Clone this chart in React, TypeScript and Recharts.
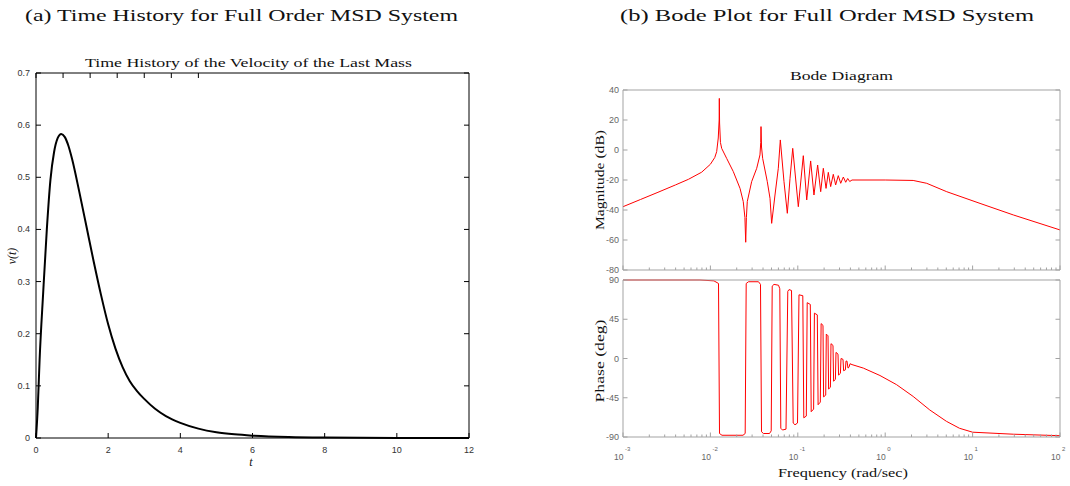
import React from "react";
import { LineChart, Line, XAxis, YAxis } from "recharts";

// ---------------- data: (a) time history ----------------
const timeT = [0, 0.05, 0.1, 0.2, 0.3, 0.4, 0.5, 0.6, 0.7, 0.8, 0.9, 1.0, 1.2, 1.4, 1.6, 1.8, 2.0, 2.2, 2.4, 2.6, 2.8, 3.0, 3.3, 3.6, 4.0, 4.5, 5.0, 5.5, 6.0, 7.0, 8.0, 10.0, 12.0];
const velocity = [0, 0.06, 0.15, 0.28, 0.4, 0.495, 0.548, 0.575, 0.583, 0.577, 0.56, 0.535, 0.472, 0.405, 0.338, 0.275, 0.218, 0.172, 0.136, 0.109, 0.09, 0.075, 0.056, 0.042, 0.029, 0.018, 0.011, 0.007, 0.0045, 0.0018, 0.0008, 0.0002, 0];
const timeTicks = [0, 2, 4, 6, 8, 10, 12];
const velocityTicks = [0, 0.1, 0.2, 0.3, 0.4, 0.5, 0.6, 0.7];

// ---------------- data: (b) Bode magnitude ----------------
const magFreq = [0.001, 0.001585, 0.002512, 0.003981, 0.005623, 0.007943, 0.01, 0.01122, 0.0118, 0.0123, 0.01259, 0.01265, 0.01274, 0.01303, 0.01346, 0.01535, 0.01828, 0.02183, 0.02377, 0.02483, 0.02535, 0.02582, 0.02642, 0.02965, 0.03388, 0.0369, 0.03767, 0.03793, 0.03846, 0.03963, 0.04477, 0.04808, 0.05023, 0.05483, 0.05984, 0.0631, 0.0695, 0.07586, 0.08147, 0.0875, 0.1014, 0.1156, 0.1265, 0.1403, 0.1531, 0.1687, 0.1828, 0.1959, 0.2104, 0.2234, 0.2377, 0.2547, 0.271, 0.2904, 0.3097, 0.3319, 0.3532, 0.3724, 0.3926, 0.4169, 1, 2.089, 2.985, 5.058, 12.16, 29.24, 100];
const magDb = [-37.8, -33, -28.2, -23.3, -19.5, -14.8, -9.5, -5, -1.1, 8, 20, 34.4, 18, 5, 1.1, -5.6, -14.4, -25.6, -34.4, -45, -61.5, -45, -34.4, -21.1, -12.2, -3.3, 5, 15.6, 2, -5.6, -21.1, -32.2, -48.9, -30, -12.2, 6.7, -21.1, -42.2, -18.9, 1.1, -37.8, -3.8, -33.3, -7.3, -30, -10, -27.8, -12.2, -25.6, -14.9, -24.4, -16.2, -23.3, -17.1, -22.2, -18, -21.5, -19, -21, -20, -20, -20.3, -22.2, -27.8, -35.6, -43.3, -53.3];

// ---------------- data: (b) Bode phase ----------------
const phaseFreq = [0.001, 0.0076, 0.01099, 0.01238, 0.01271, 0.01357, 0.0236, 0.025, 0.02568, 0.02729, 0.0355, 0.03743, 0.03844, 0.04051, 0.04746, 0.04964, 0.05096, 0.05343, 0.06016, 0.06223, 0.0639, 0.06683, 0.07328, 0.07683, 0.0793, 0.08472, 0.08857, 0.0929, 0.09922, 0.1032, 0.1141, 0.1171, 0.1251, 0.1281, 0.139, 0.1423, 0.1517, 0.1549, 0.1672, 0.1707, 0.1809, 0.1848, 0.1942, 0.1973, 0.2086, 0.2119, 0.2216, 0.2251, 0.236, 0.2398, 0.2527, 0.2568, 0.2693, 0.2736, 0.2884, 0.2929, 0.3072, 0.3122, 0.329, 0.3342, 0.3504, 0.356, 0.3655, 0.3753, 0.3853, 0.3956, 0.417, 0.5623, 0.871, 1.349, 2.089, 3.236, 5.012, 7.079, 10, 29.24, 100];
const phaseDeg = [90, 90, 89, 86, -86, -88, -88, -86, 86, 88, 88, 85, -84, -86, -86, -83, 83, 85, 84, 80, -80, -82, -81, 77, 79, 78, -74, -76, -74, 73, 72, -68, -66, 64, 62, -61, -58, 52, 50, -53, -50, 40, 38, -44, -42, 28, 26, -35, -33, 17, 15, -26, -24, 7, 5, -19, -17, 0, -1, -14, -13, -3, -3, -11, -10, -6, -7, -11, -19.5, -30, -43.5, -59, -72, -80, -84.5, -86.8, -88.5];

const magTicks = [-80, -60, -40, -20, 0, 20, 40];
const phaseTicks = [-90, -45, 0, 45, 90];
const decadeTicks = [0.001, 0.01, 0.1, 1, 10, 100];
const decadeExponents = ["-3", "-2", "-1", "0", "1", "2"];
const minorMultipliers = [2, 3, 4, 5, 6, 7, 8, 9];

// ---------------- derived tables ----------------
const timeData = timeT.map((t, i) => ({ t, v: velocity[i] }));
const magData = magFreq.map((f, i) => ({ f, m: magDb[i] }));
const phaseData = phaseFreq.map((f, i) => ({ f, p: phaseDeg[i] }));
const freqTicks = decadeTicks
  .slice(0, -1)
  .flatMap((d) => [d, ...minorMultipliers.map((m) => d * m)])
  .concat([decadeTicks[decadeTicks.length - 1]]);
const decadeIndex = (v: number) => decadeTicks.findIndex((d) => Math.abs(v / d - 1) < 1e-6);

const LEFT_FRAME = "#000000";
const BODE_FRAME = "#a3a3a3";
const BODE_LABEL = "#666666";
const SANS = "'Liberation Sans', Arial, sans-serif";
const SERIF = "'Liberation Serif', 'Times New Roman', serif";

// ---------------- tick renderers ----------------
const leftBottomTick = (props: any) => {
  const { x, y, payload } = props;
  return (
    <g>
      <line x1={x} y1={y} x2={x} y2={y - 5} stroke={LEFT_FRAME} />
      <text x={x} y={y + 11.5} textAnchor="middle" dominantBaseline="central" fontSize={9} fontFamily={SANS} fill="#333">
        {String(payload.value)}
      </text>
    </g>
  );
};
const leftTopTick = (props: any) => {
  const { x, y } = props;
  return <line x1={x} y1={y} x2={x} y2={y + 5} stroke={LEFT_FRAME} />;
};
const leftLeftTick = (props: any) => {
  const { x, y, payload } = props;
  return (
    <g>
      <line x1={x} y1={y} x2={x + 5} y2={y} stroke={LEFT_FRAME} />
      <text x={x - 6} y={y} textAnchor="end" dominantBaseline="central" fontSize={9} fontFamily={SANS} fill="#333">
        {String(payload.value)}
      </text>
    </g>
  );
};
const leftRightTick = (props: any) => {
  const { x, y } = props;
  return <line x1={x} y1={y} x2={x - 5} y2={y} stroke={LEFT_FRAME} />;
};

const bodeXTick = (side: "top" | "bottom", showLabel: boolean) => (props: any) => {
  const { x, y, payload } = props;
  const idx = decadeIndex(payload.value);
  const len = idx >= 0 ? 4.5 : 2.5;
  const dir = side === "bottom" ? -1 : 1;
  return (
    <g>
      <line x1={x} y1={y} x2={x} y2={y + dir * len} stroke={BODE_FRAME} />
      {showLabel && idx >= 0 && (
        <g>
          <text x={x + 0.5} y={y + 20} textAnchor="end" dominantBaseline="central" fontSize={8.5} fontFamily={SANS} fill={BODE_LABEL}>
            10
          </text>
          <text x={x + 2} y={y + 11.5} textAnchor="start" dominantBaseline="central" fontSize={6} fontFamily={SANS} fill={BODE_LABEL}>
            {decadeExponents[idx]}
          </text>
        </g>
      )}
    </g>
  );
};
const bodeLeftTick = (props: any) => {
  const { x, y, payload } = props;
  return (
    <g>
      <line x1={x} y1={y} x2={x + 4.5} y2={y} stroke={BODE_FRAME} />
      <text x={x - 4} y={y} textAnchor="end" dominantBaseline="central" fontSize={9} fontFamily={SANS} fill={BODE_LABEL}>
        {String(payload.value)}
      </text>
    </g>
  );
};
const bodeRightTick = (props: any) => {
  const { x, y } = props;
  return <line x1={x} y1={y} x2={x - 4.5} y2={y} stroke={BODE_FRAME} />;
};

const abs = (left: number, top: number): React.CSSProperties => ({ position: "absolute", left, top });

export default function App() {
  return (
    <div style={{ position: "absolute", left: 0, top: 0, width: 1070, height: 486, background: "#fff", overflow: "hidden" }}>
      {/* (a) time history */}
      <div style={abs(0, 0)}>
        <LineChart width={480} height={486} data={timeData} margin={{ top: 72, right: 10, bottom: 47, left: 0 }}>
          <XAxis xAxisId="b" dataKey="t" type="number" domain={[0, 12]} ticks={timeTicks} interval={0} height={1}
            tickSize={0} tickMargin={0} tickLine={false} axisLine={{ stroke: LEFT_FRAME }} tick={leftBottomTick} />
          <XAxis xAxisId="t" orientation="top" type="number" domain={[0, 12]} allowDataOverflow ticks={timeTicks} interval={0} height={1}
            tickSize={0} tickMargin={0} tickLine={false} axisLine={{ stroke: LEFT_FRAME }} tick={leftTopTick} />
          <YAxis yAxisId="l" type="number" domain={[0, 0.7]} ticks={velocityTicks} interval={0} width={36}
            tickSize={0} tickMargin={0} tickLine={false} axisLine={{ stroke: LEFT_FRAME }} tick={leftLeftTick} />
          <YAxis yAxisId="r" orientation="right" type="number" domain={[0, 0.7]} allowDataOverflow ticks={velocityTicks} interval={0} width={1}
            tickSize={0} tickMargin={0} tickLine={false} axisLine={{ stroke: LEFT_FRAME }} tick={leftRightTick} />
          <Line xAxisId="b" yAxisId="l" type="monotone" dataKey="v" stroke="#000" strokeWidth={2} dot={false} isAnimationActive={false} />
        </LineChart>
      </div>

      {/* (b) Bode magnitude */}
      <div style={abs(560, 0)}>
        <LineChart width={510} height={276} data={magData} margin={{ top: 89, right: 9, bottom: 5, left: 0 }}>
          <XAxis xAxisId="b" dataKey="f" type="number" scale="log" domain={[0.001, 100]} ticks={freqTicks} interval={0} height={1}
            tickSize={0} tickMargin={0} tickLine={false} axisLine={{ stroke: BODE_FRAME }} tick={bodeXTick("bottom", false)} />
          <XAxis xAxisId="t" orientation="top" type="number" scale="log" domain={[0.001, 100]} allowDataOverflow ticks={freqTicks} interval={0} height={1}
            tickSize={0} tickMargin={0} tickLine={false} axisLine={{ stroke: BODE_FRAME }} tick={bodeXTick("top", false)} />
          <YAxis yAxisId="l" type="number" domain={[-80, 40]} ticks={magTicks} interval={0} width={63}
            tickSize={0} tickMargin={0} tickLine={false} axisLine={{ stroke: BODE_FRAME }} tick={bodeLeftTick} />
          <YAxis yAxisId="r" orientation="right" type="number" domain={[-80, 40]} allowDataOverflow ticks={magTicks} interval={0} width={1}
            tickSize={0} tickMargin={0} tickLine={false} axisLine={{ stroke: BODE_FRAME }} tick={bodeRightTick} />
          <Line xAxisId="b" yAxisId="l" type="linear" dataKey="m" stroke="#ff0000" strokeWidth={1} dot={false} isAnimationActive={false} />
        </LineChart>
      </div>

      {/* (b) Bode phase */}
      <div style={abs(560, 276)}>
        <LineChart width={510} height={210} data={phaseData} margin={{ top: 3, right: 9, bottom: 48, left: 0 }}>
          <XAxis xAxisId="b" dataKey="f" type="number" scale="log" domain={[0.001, 100]} ticks={freqTicks} interval={0} height={1}
            tickSize={0} tickMargin={0} tickLine={false} axisLine={{ stroke: BODE_FRAME }} tick={bodeXTick("bottom", true)} />
          <XAxis xAxisId="t" orientation="top" type="number" scale="log" domain={[0.001, 100]} allowDataOverflow ticks={freqTicks} interval={0} height={1}
            tickSize={0} tickMargin={0} tickLine={false} axisLine={{ stroke: BODE_FRAME }} tick={bodeXTick("top", false)} />
          <YAxis yAxisId="l" type="number" domain={[-90, 90]} ticks={phaseTicks} interval={0} width={63}
            tickSize={0} tickMargin={0} tickLine={false} axisLine={{ stroke: BODE_FRAME }} tick={bodeLeftTick} />
          <YAxis yAxisId="r" orientation="right" type="number" domain={[-90, 90]} allowDataOverflow ticks={phaseTicks} interval={0} width={1}
            tickSize={0} tickMargin={0} tickLine={false} axisLine={{ stroke: BODE_FRAME }} tick={bodeRightTick} />
          <Line xAxisId="b" yAxisId="l" type="linear" dataKey="p" stroke="#ff0000" strokeWidth={1} dot={false} isAnimationActive={false} />
        </LineChart>
      </div>

      {/* text overlay */}
      <svg width={1070} height={486} style={{ position: "absolute", left: 0, top: 0, pointerEvents: "none" }}>
        <g fontFamily={SERIF} fill="#111">
          <text x={241.5} y={21} fontSize={17} textAnchor="middle" textLength={433} lengthAdjust="spacingAndGlyphs">
            (a) Time History for Full Order MSD System
          </text>
          <text x={827} y={21} fontSize={17} textAnchor="middle" textLength={414} lengthAdjust="spacingAndGlyphs">
            (b) Bode Plot for Full Order MSD System
          </text>
          <text x={248.5} y={66.5} fontSize={12} textAnchor="middle" textLength={327} lengthAdjust="spacingAndGlyphs">
            Time History of the Velocity of the Last Mass
          </text>
          <text x={12} y={256} fontSize={12} fontStyle="italic" textAnchor="middle" dominantBaseline="central" transform="rotate(-90 12 256)">
            v(t)
          </text>
          <text x={251} y={466} fontSize={12} fontStyle="italic" textAnchor="middle">
            t
          </text>
          <text x={841.5} y={80} fontSize={12} textAnchor="middle" textLength={103} lengthAdjust="spacingAndGlyphs">
            Bode Diagram
          </text>
          <text x={600} y={180} fontSize={12} textAnchor="middle" dominantBaseline="central" transform="rotate(-90 600 180)" textLength={100} lengthAdjust="spacingAndGlyphs">
            Magnitude (dB)
          </text>
          <text x={600} y={361} fontSize={12} textAnchor="middle" dominantBaseline="central" transform="rotate(-90 600 361)" textLength={83} lengthAdjust="spacingAndGlyphs">
            Phase (deg)
          </text>
          <text x={843} y={477} fontSize={12} textAnchor="middle" textLength={130} lengthAdjust="spacingAndGlyphs">
            Frequency (rad/sec)
          </text>
        </g>
      </svg>
    </div>
  );
}
